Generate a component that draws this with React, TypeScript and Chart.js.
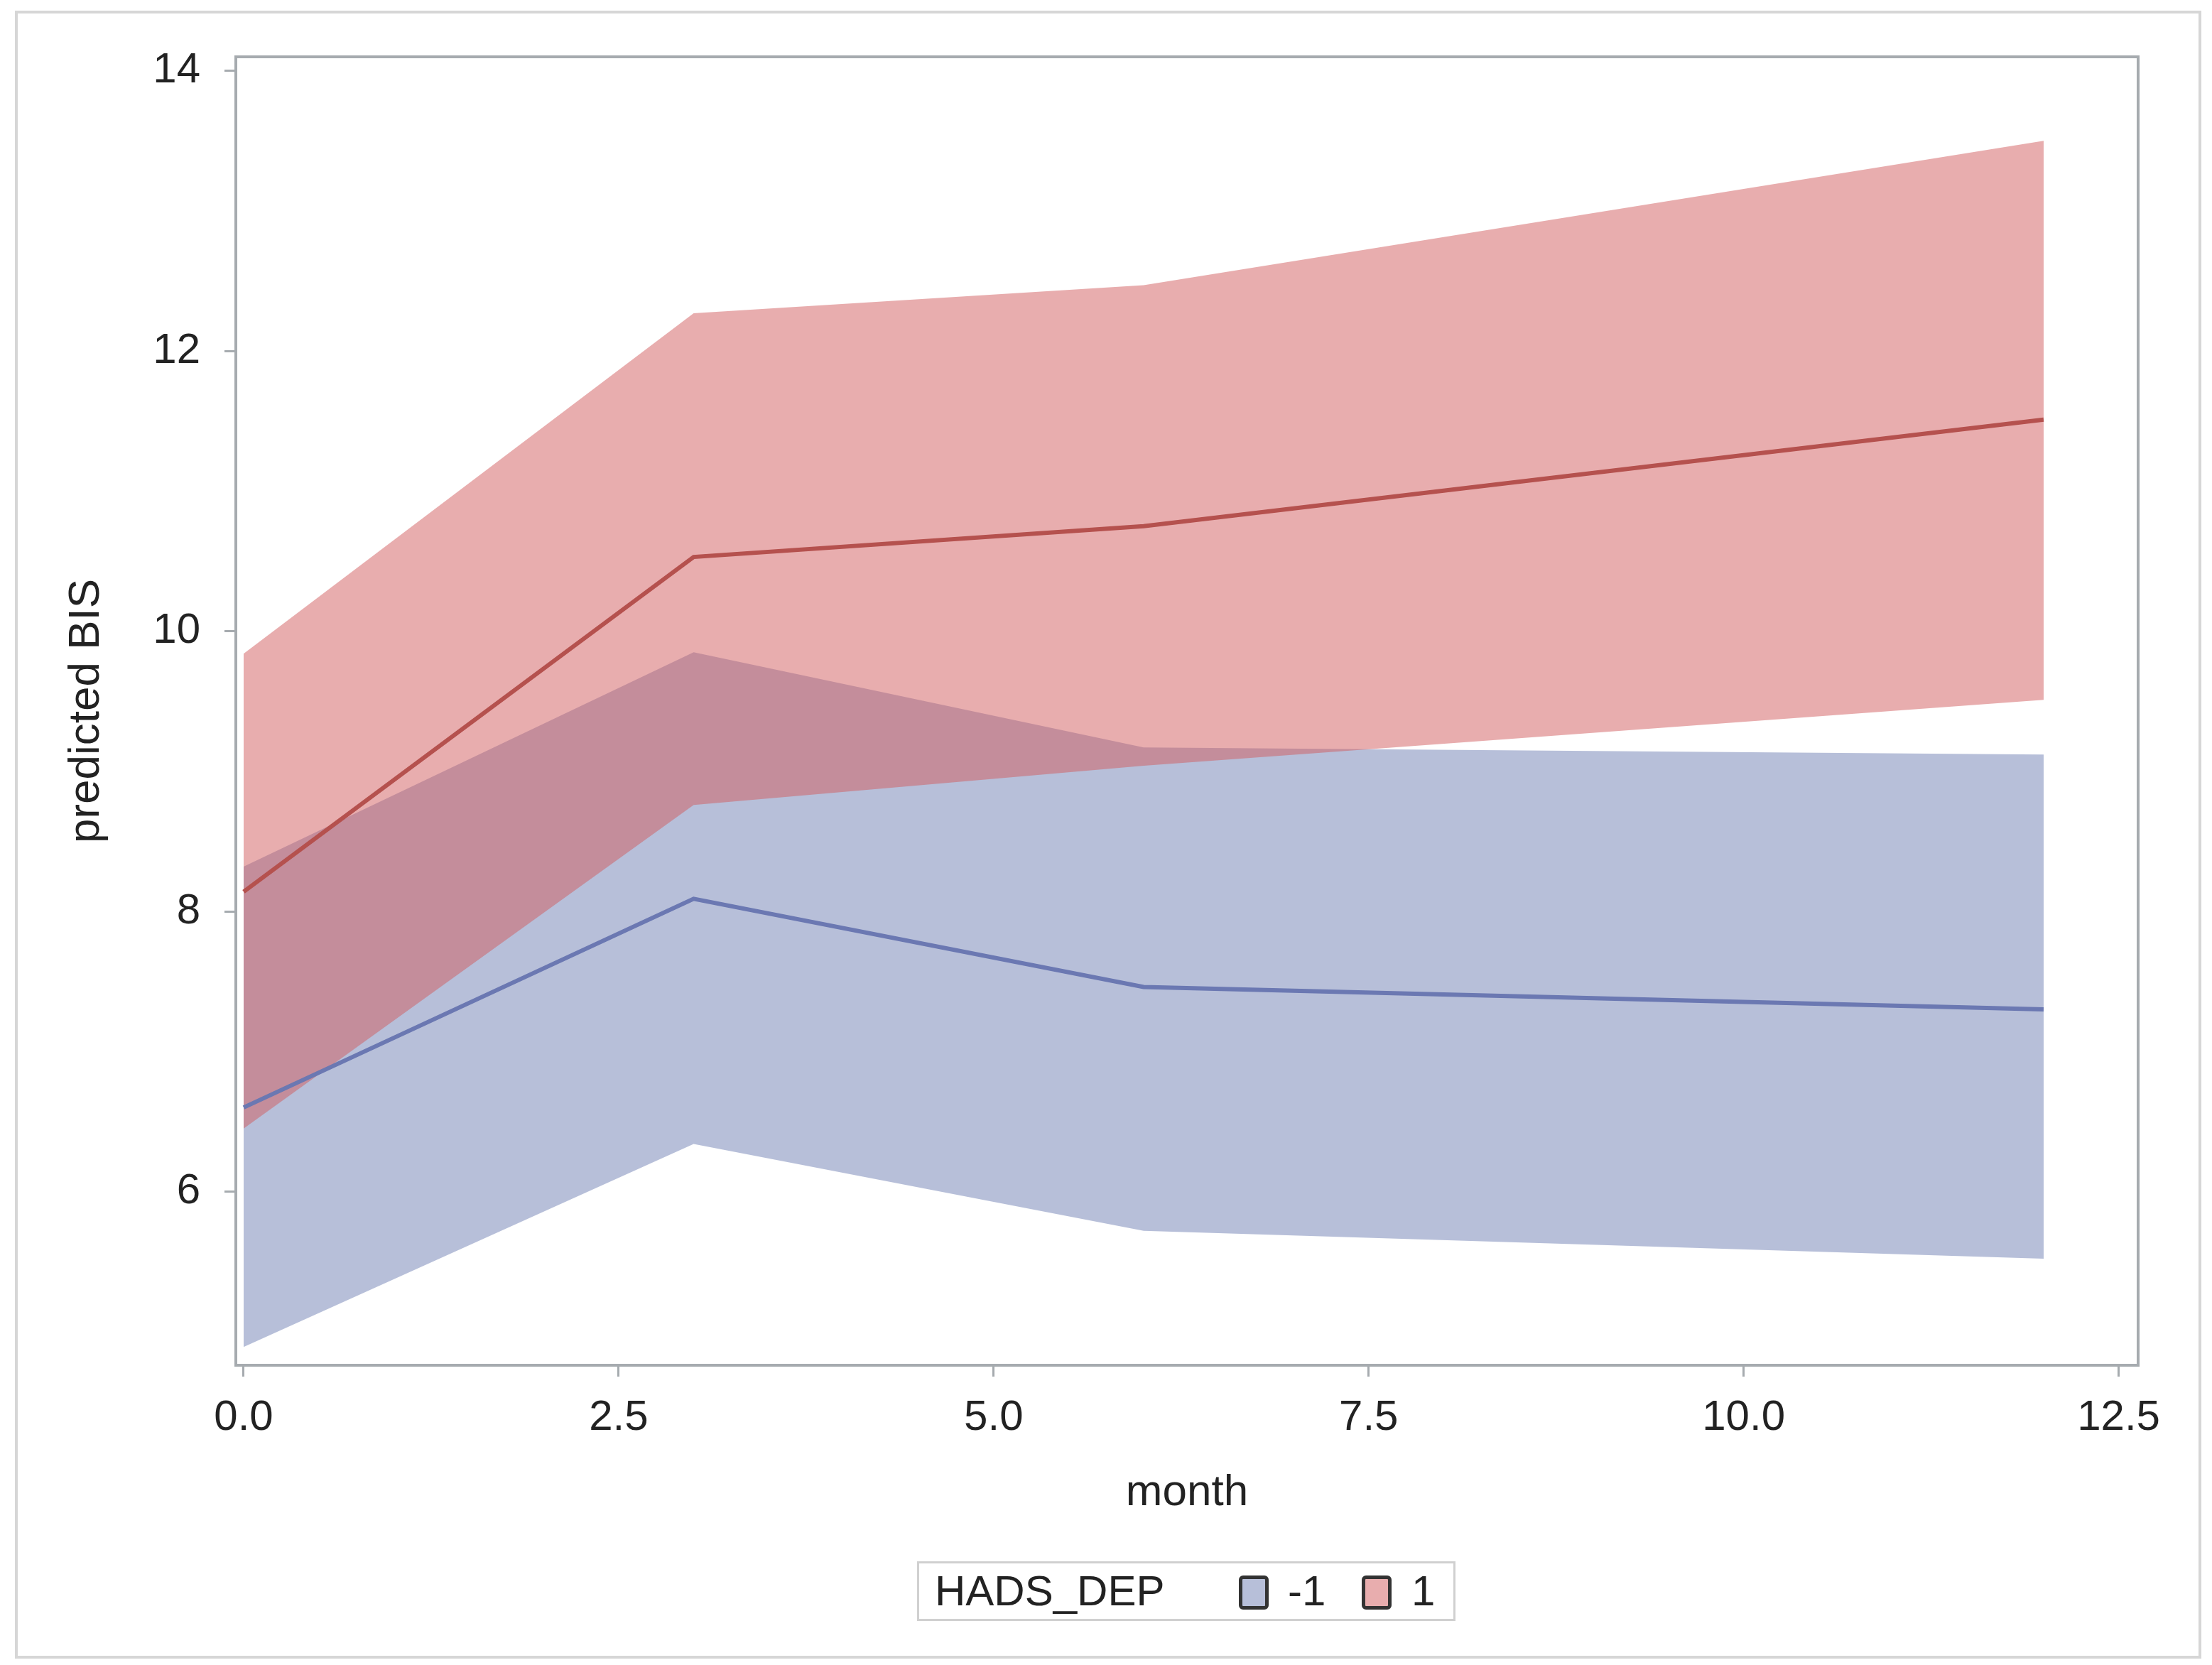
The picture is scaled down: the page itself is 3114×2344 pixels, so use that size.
import React, { useEffect, useRef } from "react";
import { Chart, registerables, ChartConfiguration } from "chart.js";

Chart.register(...registerables);

// predicted BIS by month, one band (lower/upper) and one mean line per HADS_DEP group
const months = [0, 3, 6, 12];

const negMean = [6.6, 8.09, 7.46, 7.3];
const negLower = [4.89, 6.34, 5.72, 5.52];
const negUpper = [8.32, 9.85, 9.17, 9.12];

const posMean = [8.14, 10.53, 10.75, 11.51];
const posLower = [6.45, 8.76, 9.04, 9.51];
const posUpper = [9.84, 12.27, 12.47, 13.5];

const xTicks = [0, 2.5, 5, 7.5, 10, 12.5];
const yTicks = [6, 8, 10, 12, 14];

const FONT = '"Liberation Sans", Arial, sans-serif';
const TEXT = "#222";
const AXIS = "#a6abaf";

const BLUE_BAND = "rgba(111,127,179,0.5)";
const RED_BAND = "rgba(209,91,93,0.5)";
const BLUE_LINE = "#6b78b2";
const RED_LINE = "#b5514e";

const pts = (ys: number[]) => months.map((m, i) => ({ x: m, y: ys[i] }));

const plotFrame = {
  id: "plotFrame",
  afterDatasetsDraw(chart: Chart) {
    const { ctx, chartArea: a } = chart;
    ctx.save();
    ctx.strokeStyle = AXIS;
    ctx.lineWidth = 4;
    ctx.strokeRect(a.left, a.top, a.right - a.left, a.bottom - a.top);
    ctx.restore();
  },
};

const PredictedChart: React.FC = () => {
  const canvasRef = useRef<HTMLCanvasElement>(null);

  useEffect(() => {
    if (!canvasRef.current) return;
    const ctx = canvasRef.current.getContext("2d");
    if (!ctx) return;

    const band = { pointRadius: 0, borderWidth: 0, tension: 0 };

    const config: ChartConfiguration<"line"> = {
      type: "line",
      data: {
        datasets: [
          { label: "-1 lower", data: pts(negLower), ...band, fill: false, order: 5, borderColor: "transparent" },
          { label: "-1 upper", data: pts(negUpper), ...band, fill: "-1", order: 4, borderColor: "transparent", backgroundColor: BLUE_BAND },
          { label: "1 lower", data: pts(posLower), ...band, fill: false, order: 3, borderColor: "transparent" },
          { label: "1 upper", data: pts(posUpper), ...band, fill: "-1", order: 2, borderColor: "transparent", backgroundColor: RED_BAND },
          { label: "-1", data: pts(negMean), pointRadius: 0, borderWidth: 6, borderColor: BLUE_LINE, fill: false, order: 1, tension: 0 },
          { label: "1", data: pts(posMean), pointRadius: 0, borderWidth: 6, borderColor: RED_LINE, fill: false, order: 0, tension: 0 },
        ],
      },
      options: {
        animation: false,
        responsive: true,
        maintainAspectRatio: false,
        layout: { padding: { left: 0, top: 80, right: 104, bottom: 92 } },
        plugins: {
          legend: { display: false },
          tooltip: { enabled: false },
        },
        scales: {
          x: {
            type: "linear",
            min: -0.052,
            max: 12.63,
            afterFit: (s: any) => {
              s.height = 330;
            },
            afterBuildTicks: (s: any) => {
              s.ticks = xTicks.map((v) => ({ value: v }));
            },
            border: { display: false },
            grid: { drawOnChartArea: false, drawTicks: true, tickLength: 16, color: AXIS, lineWidth: 3 },
            ticks: {
              padding: 22,
              color: TEXT,
              font: { family: FONT, size: 60 },
              callback: (v: any) => Number(v).toFixed(1),
            },
            title: {
              display: true,
              text: "month",
              color: TEXT,
              font: { family: FONT, size: 62 },
              padding: { top: 0, bottom: 113 },
            },
          },
          y: {
            type: "linear",
            min: 4.76,
            max: 14.1,
            afterFit: (s: any) => {
              s.width = 332;
            },
            afterBuildTicks: (s: any) => {
              s.ticks = yTicks.map((v) => ({ value: v }));
            },
            border: { display: false },
            grid: { drawOnChartArea: false, drawTicks: true, tickLength: 16, color: AXIS, lineWidth: 3 },
            ticks: {
              padding: 34,
              color: TEXT,
              font: { family: FONT, size: 60 },
              callback: (v: any) => String(v),
            },
            title: {
              display: true,
              text: "predicted BIS",
              color: TEXT,
              font: { family: FONT, size: 62 },
              padding: { top: 85, bottom: 0 },
            },
          },
        },
      },
      plugins: [plotFrame],
    };

    const chart = new Chart(ctx, config);
    return () => {
      chart.destroy();
    };
  }, []);

  return <canvas ref={canvasRef} />;
};

const swatch = (left: number, fill: string): React.CSSProperties => ({
  position: "absolute",
  left,
  top: 17,
  width: 42,
  height: 48,
  boxSizing: "border-box",
  border: "5px solid #333",
  borderRadius: 6,
  background: fill,
});

const legendText = (left: number): React.CSSProperties => ({
  position: "absolute",
  left,
  top: 0,
  height: "100%",
  display: "flex",
  alignItems: "center",
  fontFamily: FONT,
  fontSize: 60,
  color: TEXT,
  lineHeight: 1,
  whiteSpace: "nowrap",
});

export default function App() {
  return (
    <div
      style={{
        position: "fixed",
        left: 0,
        top: 0,
        width: 3114,
        height: 2344,
        background: "#fff",
        overflow: "hidden",
      }}
    >
      <div style={{ position: "absolute", inset: 0 }}>
        <PredictedChart />
      </div>
      <div
        style={{
          position: "absolute",
          left: 21,
          top: 15,
          width: 3078,
          height: 2320,
          boxSizing: "border-box",
          border: "4px solid #d6d6d6",
          pointerEvents: "none",
        }}
      />
      <div
        style={{
          position: "absolute",
          left: 1291,
          top: 2198,
          width: 758,
          height: 84,
          boxSizing: "border-box",
          border: "3px solid #d0d0d0",
          background: "#fff",
        }}
      >
        <span style={legendText(22)}>HADS_DEP</span>
        <div style={swatch(450, "rgb(183,191,217)")} />
        <span style={legendText(519)}>-1</span>
        <div style={swatch(623, "rgb(232,173,174)")} />
        <span style={legendText(693)}>1</span>
      </div>
    </div>
  );
}
